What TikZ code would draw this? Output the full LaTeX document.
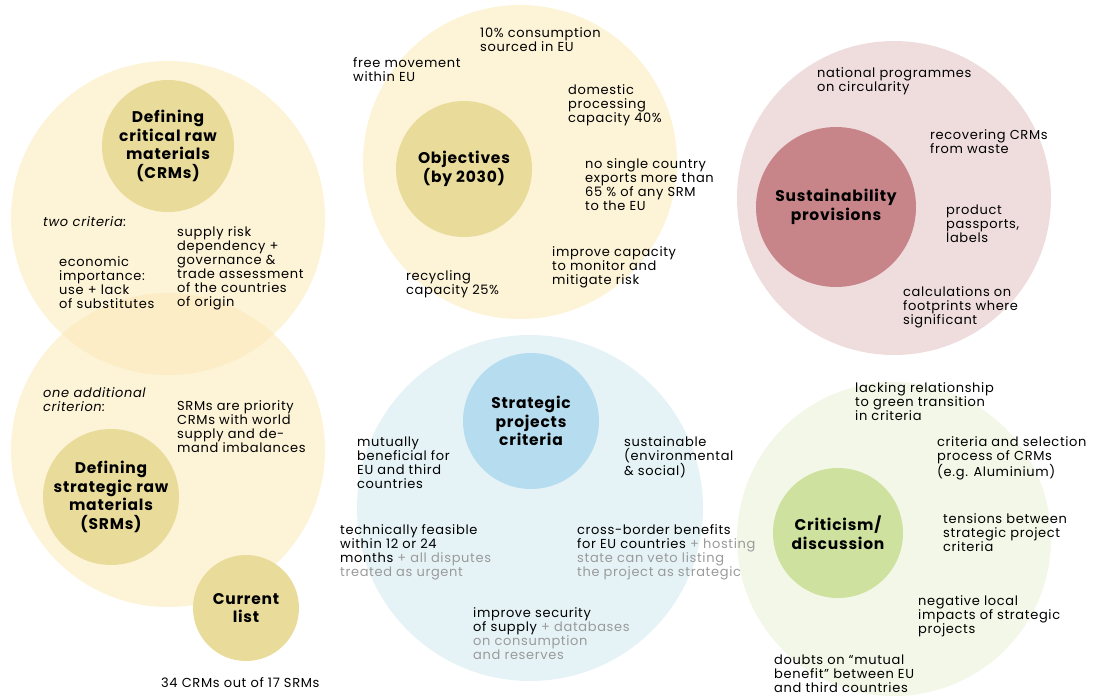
\documentclass[tikz,border=0pt]{standalone}
\usepackage{fontspec}
\setmainfont{Poppins}[LetterSpace=5]
\usepackage{xcolor}
\usetikzlibrary{positioning}

\definecolor{sandring}{HTML}{FDF3D7}
\definecolor{sandlens}{HTML}{FCEDC6}
\definecolor{sandcore}{HTML}{E9DC9B}
\definecolor{roseRing}{HTML}{EFDDDE}
\definecolor{roseCore}{HTML}{C7858A}
\definecolor{skyRing}{HTML}{E5F3F7}
\definecolor{skyCore}{HTML}{B6DCEF}
\definecolor{leafRing}{HTML}{F3F7E8}
\definecolor{leafCore}{HTML}{CFE19E}
\definecolor{muted}{HTML}{9A9A9A}

\newcommand{\faded}[1]{\textcolor{muted}{#1}}

\begin{document}
\begin{tikzpicture}[x=1pt, y=-1pt,
  ring/.style={circle, draw=none, inner sep=0pt, minimum size=#1},
  title/.style={font=\bfseries\fontsize{15.5}{18.7}\selectfont, align=center},
  note/.style={font=\fontsize{13}{14}\selectfont, align=left, anchor=north west,
    inner sep=0pt, yshift=9.8pt, execute at begin node=\strut},
  aside/.style={note, font=\itshape\fontsize{13}{14}\selectfont}]
  \useasboundingbox (0,0) rectangle (1096,697);

  % Raw material rings (overlapping pair)
  \node[ring=314pt, fill=sandring] (crmring) at (168,218) {};
  \node[ring=314pt, fill=sandring] (srmring) at (168,450) {};
  \begin{scope}
    \clip (168,218) circle (157);
    \fill[sandlens] (168,450) circle (157);
  \end{scope}

  % Other outer rings
  \node[ring=314pt, fill=sandring] (objring) at (520,162) {};
  \node[ring=314pt, fill=roseRing] (susring) at (894,198) {};
  \node[ring=346pt, fill=skyRing] (sprring) at (530,508) {};
  \node[ring=314pt, fill=leafRing] (crtring) at (894,539) {};

  % Cores
  \node[ring=132pt, fill=sandcore, title] (crmcore) at (168,146) {Defining\\critical raw\\materials\\(CRMs)};
  \node[ring=136pt, fill=sandcore, title] (srmcore) at (111,497) {Defining\\strategic raw\\materials\\(SRMs)};
  \node[ring=106pt, fill=sandcore, title] (listcore) at (246,608) {Current\\list};
  \node[ring=136pt, fill=sandcore, title] (objcore) at (464,169) {Objectives\\(by 2030)};
  \node[ring=160pt, fill=roseCore, title] (suscore) at (836,207) {Sustainability\\provisions};
  \node[ring=136pt, fill=skyCore, title] (sprcore) at (531,421) {Strategic\\projects\\criteria};
  \node[ring=130pt, fill=leafCore, title] (crtcore) at (838,533) {Criticism/\\discussion};

  % CRM notes
  \node[aside] (twocrit) at (43,226) {two criteria:};
  \node[note] (econ) at (59,266) {economic\\importance:\\use + lack\\of substitutes};
  \node[note] (supply) at (177,236) {supply risk\\dependency +\\governance \&\\trade assessment\\of the countries\\of origin};

  % SRM notes
  \node[aside] (onecrit) at (43,397) {one additional\\criterion:};
  \node[note] (srmdef) at (177,410) {SRMs are priority\\CRMs with world\\supply and de-\\mand imbalances};
  \node[note] (count) at (161,687) {34 CRMs out of 17 SRMs};

  % Objectives
  \node[note] (share) at (480,37) {10\% consumption\\sourced in EU};
  \node[note] (freemove) at (353,67) {free movement\\within EU};
  \node[note] (domestic) at (568,94) {domestic\\processing\\capacity 40\%};
  \node[note] (nosingle) at (585,168) {no single country\\exports more than\\65 \% of any SRM\\to the EU};
  \node[note] (monitor) at (552,256) {improve capacity\\to monitor and\\mitigate risk};
  \node[note] (recycle) at (406,280) {recycling\\capacity 25\%};

  % Sustainability
  \node[note] (national) at (817,77) {national programmes\\on circularity};
  \node[note] (recover) at (930,139) {recovering CRMs\\from waste};
  \node[note] (passport) at (946,214) {product\\passports,\\labels};
  \node[note] (footprint) at (903,296) {calculations on\\footprints where\\significant};

  % Strategic projects
  \node[note] (mutual) at (357,446) {mutually\\beneficial for\\EU and third\\countries};
  \node[note] (sustain) at (624,446) {sustainable\\(environmental\\\& social)};
  \node[note] (feasible) at (340,534) {technically feasible\\within 12 or 24\\months \faded{+ all disputes}\\\faded{treated as urgent}};
  \node[note] (crossb) at (577,534) {cross-border benefits\\for EU countries \faded{+ hosting}\\\faded{state can veto listing}\\\faded{the project as strategic}};
  \node[note] (security) at (473,617) {improve security\\of supply \faded{+ databases}\\\faded{on consumption}\\\faded{and reserves}};

  % Criticism
  \node[note] (lacking) at (855,392) {lacking relationship\\to green transition\\in criteria};
  \node[note] (selection) at (937,446) {criteria and selection\\process of CRMs\\(e.g. Aluminium)};
  \node[note] (tensions) at (943,523) {tensions between\\strategic project\\criteria};
  \node[note] (negative) at (918,605) {negative local\\impacts of strategic\\projects};
  \node[note] (doubts) at (774,664) {doubts on “mutual\\benefit” between EU\\and third countries};
\end{tikzpicture}
\end{document}
